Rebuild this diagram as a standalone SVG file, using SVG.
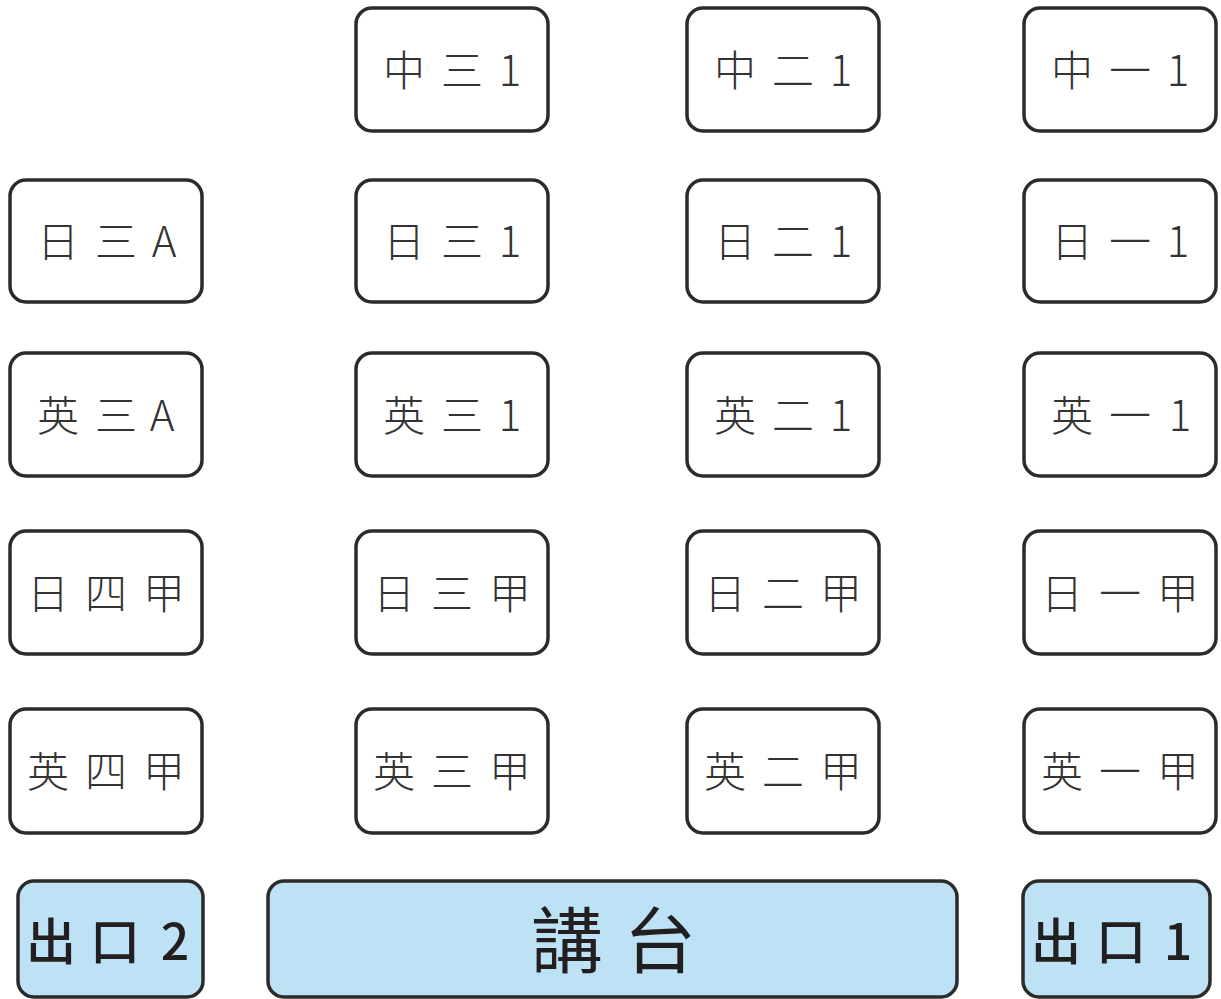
<svg xmlns="http://www.w3.org/2000/svg" width="1221" height="999" viewBox="0 0 1221 999">
<style>
.seat rect{fill:#fff;stroke:#2d2a2a;stroke-width:3.5}
.blue rect{fill:#bde2f6;stroke:#2d2a2a;stroke-width:3.5}
text{font-family:"Noto Sans CJK SC","Noto Sans CJK TC",sans-serif;text-anchor:middle}
.seat text{font-size:42px;font-weight:300;fill:#333}
.blue text{font-size:50px;font-weight:500;fill:#231f20}
.big text{font-size:72px;font-weight:400}
</style>
<rect width="1221" height="999" fill="#fff"/>
<g id="n-zhong3-1" class="seat"><rect x="356" y="8" width="192" height="123" rx="16"/><text x="404 462 510" y="86">中三1</text></g>
<g id="n-zhong2-1" class="seat"><rect x="687" y="8" width="192" height="123" rx="16"/><text x="735 793 841" y="86">中二1</text></g>
<g id="n-zhong1-1" class="seat"><rect x="1024" y="8" width="192" height="123" rx="16"/><text x="1072 1130 1178" y="86">中一1</text></g>

<g id="n-ri3-A" class="seat"><rect x="10" y="180" width="192" height="122" rx="16"/><text x="58 116 164" y="257">日三A</text></g>
<g id="n-ri3-1" class="seat"><rect x="356" y="180" width="192" height="122" rx="16"/><text x="404 462 510" y="257">日三1</text></g>
<g id="n-ri2-1" class="seat"><rect x="687" y="180" width="192" height="122" rx="16"/><text x="735 793 841" y="257">日二1</text></g>
<g id="n-ri1-1" class="seat"><rect x="1024" y="180" width="192" height="122" rx="16"/><text x="1072 1130 1178" y="257">日一1</text></g>

<g id="n-ying3-A" class="seat"><rect x="10" y="353" width="192" height="123" rx="16"/><text x="58 116 162" y="431">英三A</text></g>
<g id="n-ying3-1" class="seat"><rect x="356" y="353" width="192" height="123" rx="16"/><text x="404 462 510" y="431">英三1</text></g>
<g id="n-ying2-1" class="seat"><rect x="687" y="353" width="192" height="123" rx="16"/><text x="735 793 841" y="431">英二1</text></g>
<g id="n-ying1-1" class="seat"><rect x="1024" y="353" width="192" height="123" rx="16"/><text x="1072 1130 1180" y="431">英一1</text></g>

<g id="n-ri4-jia" class="seat"><rect x="10" y="531" width="192" height="123" rx="16"/><text x="48 106 164" y="609">日四甲</text></g>
<g id="n-ri3-jia" class="seat"><rect x="356" y="531" width="192" height="123" rx="16"/><text x="394 452 510" y="609">日三甲</text></g>
<g id="n-ri2-jia" class="seat"><rect x="687" y="531" width="192" height="123" rx="16"/><text x="725 783 841" y="609">日二甲</text></g>
<g id="n-ri1-jia" class="seat"><rect x="1024" y="531" width="192" height="123" rx="16"/><text x="1062 1120 1178" y="609">日一甲</text></g>

<g id="n-ying4-jia" class="seat"><rect x="10" y="709" width="192" height="124" rx="16"/><text x="48 106 164" y="787">英四甲</text></g>
<g id="n-ying3-jia" class="seat"><rect x="356" y="709" width="192" height="124" rx="16"/><text x="394 452 510" y="787">英三甲</text></g>
<g id="n-ying2-jia" class="seat"><rect x="687" y="709" width="192" height="124" rx="16"/><text x="725 783 841" y="787">英二甲</text></g>
<g id="n-ying1-jia" class="seat"><rect x="1024" y="709" width="192" height="124" rx="16"/><text x="1062 1120 1178" y="787">英一甲</text></g>

<g id="n-exit2" class="blue"><rect x="18" y="881" width="185" height="116" rx="16"/><text x="51 115 175" y="960">出口2</text></g>
<g id="n-podium" class="blue big"><rect x="268" y="881" width="689" height="116" rx="16"/><text x="567 660" y="967">講台</text></g>
<g id="n-exit1" class="blue"><rect x="1023" y="881" width="187" height="116" rx="16"/><text x="1056 1121 1178" y="960">出口1</text></g>
</svg>
